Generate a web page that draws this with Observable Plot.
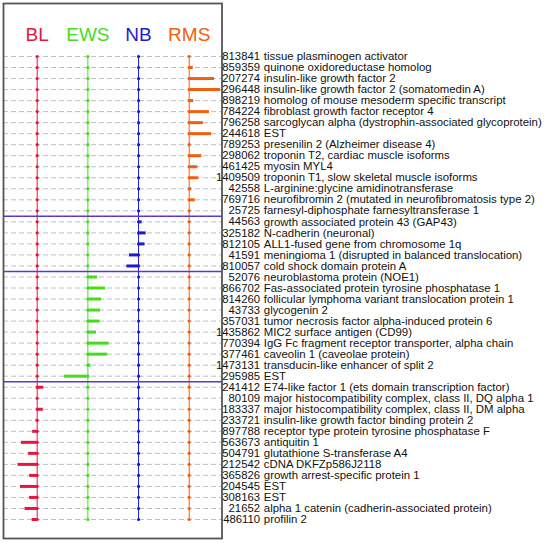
<!DOCTYPE html>
<html>
<head>
<meta charset="utf-8">
<script src="https://cdn.jsdelivr.net/npm/d3@7"></script>
<script src="https://cdn.jsdelivr.net/npm/@observablehq/plot@0.6"></script>
<style>
  html, body { margin: 0; padding: 0; background: #fff; }
</style>
</head>
<body>
<div id="chart"></div>
<script>
const categories = ["BL", "EWS", "NB", "RMS"];

const geneIds = ["813841","859359","207274","296448","898219","784224","796258","244618","789253","298062","461425","1409509","42558","769716","25725",
  "44563","325182","812105","41591","810057",
  "52076","866702","814260","43733","357031","1435862","770394","377461","1473131","295985",
  "241412","80109","183337","233721","897788","563673","504791","212542","365826","204545","308163","21652","486110"];

const geneNames = ["tissue plasminogen activator","quinone oxidoreductase homolog","insulin-like growth factor 2","insulin-like growth factor 2 (somatomedin A)","homolog of mouse mesoderm specific transcript","fibroblast growth factor receptor 4","sarcoglycan alpha (dystrophin-associated glycoprotein)","EST","presenilin 2 (Alzheimer disease 4)","troponin T2, cardiac muscle isoforms","myosin MYL4","troponin T1, slow skeletal muscle isoforms","L-arginine:glycine amidinotransferase","neurofibromin 2 (mutated in neurofibromatosis type 2)","farnesyl-diphosphate farnesyltransferase 1",
  "growth associated protein 43 (GAP43)","N-cadherin (neuronal)","ALL1-fused gene from chromosome 1q","meningioma 1 (disrupted in balanced translocation)","cold shock domain protein A",
  "neuroblastoma protein (NOE1)","Fas-associated protein tyrosine phosphatase 1","follicular lymphoma variant translocation protein 1","glycogenin 2","tumor necrosis factor alpha-induced protein 6","MIC2 surface antigen (CD99)","IgG Fc fragment receptor transporter, alpha chain","caveolin 1 (caveolae protein)","transducin-like enhancer of split 2","EST",
  "E74-like factor 1 (ets domain transcription factor)","major histocompatibility complex, class II, DQ alpha 1","major histocompatibility complex, class II, DM alpha","insulin-like growth factor binding protein 2","receptor type protein tyrosine phosphatase F","antiquitin 1","glutathione S-transferase A4","cDNA DKFZp586J2118","growth arrest-specific protein 1","EST","EST","alpha 1 catenin (cadherin-associated protein)","profilin 2"];

// group order (top to bottom) and number of genes in each group
const groups = ["RMS", "NB", "EWS", "BL"];
const groupSizes = [15, 5, 10, 13];

// bar values per column, one per gene row (top to bottom)
const valuesBL = [0,0,0,0,0,0,0,0,0,0,0,0,0,0,0,
  0,0,0,0,0,
  0,0,0,0,0,0,0,0,0,0,
  0.65,0.1,0.6,-0.1,-0.45,-1.55,-0.85,-1.9,-0.75,-1.65,-0.75,-1.2,-0.5];
const valuesEWS = [0,0,0,0,0,0,0,0,0,0,0,0,0,0,0,
  0,0,0,0,0,
  0.95,1.75,1.35,1.25,1.2,0.85,2.1,1.95,0.3,-2.3,
  0,0,0,0,0,0,0,0,0,0,0,0,0];
const valuesNB = [0,0,0,0,0,0,0,0,0,0,0,0,0,0,0,
  0.35,0.75,0.65,-0.9,-1.15,
  0,0,0,0,0,0,0,0,0,0,
  0,0,0,0,0,0,0,0,0,0,0,0,0];
const valuesRMS = [0.1,0.4,2.5,3.1,0.45,2.0,1.4,2.2,0.15,1.25,0.85,0.95,0.25,0.6,0.1,
  0,0,0,0,0,
  0,0,0,0,0,0,0,0,0,0,
  0,0,0,0,0,0,0,0,0,0,0,0,0];

const series = {BL: valuesBL, EWS: valuesEWS, NB: valuesNB, RMS: valuesRMS};
const nRows = geneIds.length;
const rows = geneIds.map((id, i) => ({i, id, name: geneNames[i]}));
const table = categories.flatMap((cat, ci) =>
  series[cat].map((v, i) => ({cat, ci, i, v})));
const boundaries = d3.cumsum(groupSizes).slice(0, -1);
const unitsPerColumn = 5;

const chart = Plot.plot({
  width: 549,
  height: 543,
  marginLeft: 3,
  marginRight: 327.5,
  marginTop: 3,
  marginBottom: 5,
  style: {fontFamily: "'Liberation Sans', Arial, Helvetica, sans-serif", background: "#fff"},
  x: {domain: [0, categories.length - 1], range: [36.7, 188.7], axis: null},
  y: {domain: [0, nRows - 1], range: [56, 519], axis: null},
  color: {domain: categories, range: ["#e5173f", "#45dc1e", "#1c1ccf", "#f0600e"]},
  marks: [
    Plot.ruleY(rows, {y: "i", stroke: "#bcc0c8", strokeWidth: 1, strokeDasharray: "5,3"}),
    Plot.ruleX(categories, {x: (d, i) => i, y1: 0, y2: nRows - 1, stroke: d => d, strokeWidth: 1}),
    Plot.ruleY(table.filter(d => d.v !== 0), {
      y: "i", x1: "ci", x2: d => d.ci + d.v / unitsPerColumn,
      stroke: "cat", strokeWidth: 3
    }),
    Plot.dot(table, {x: "ci", y: "i", r: 1.6, fill: "cat", stroke: "none"}),
    Plot.ruleY(boundaries, {y: d => d - 0.5, stroke: "#5b37cf", strokeWidth: 1.5}),
    Plot.frame({stroke: "#555", strokeWidth: 1.8}),
    Plot.text(categories, {
      x: (d, i) => i, frameAnchor: "top", dy: 31, lineAnchor: "middle",
      text: d => d, fill: d => d, fontSize: 19
    }),
    Plot.text(rows, {
      y: "i", text: "id", frameAnchor: "right", dx: 38, textAnchor: "end",
      fontSize: 11.3, fill: "#111",
      fontFamily: "'Liberation Sans Narrow', 'Liberation Sans', Arial, sans-serif"
    }),
    Plot.text(rows, {
      y: "i", text: "name", frameAnchor: "right", dx: 41.8, textAnchor: "start",
      fontSize: 11.4, fill: "#111"
    })
  ]
});
document.getElementById("chart").appendChild(chart);
</script>
</body>
</html>
